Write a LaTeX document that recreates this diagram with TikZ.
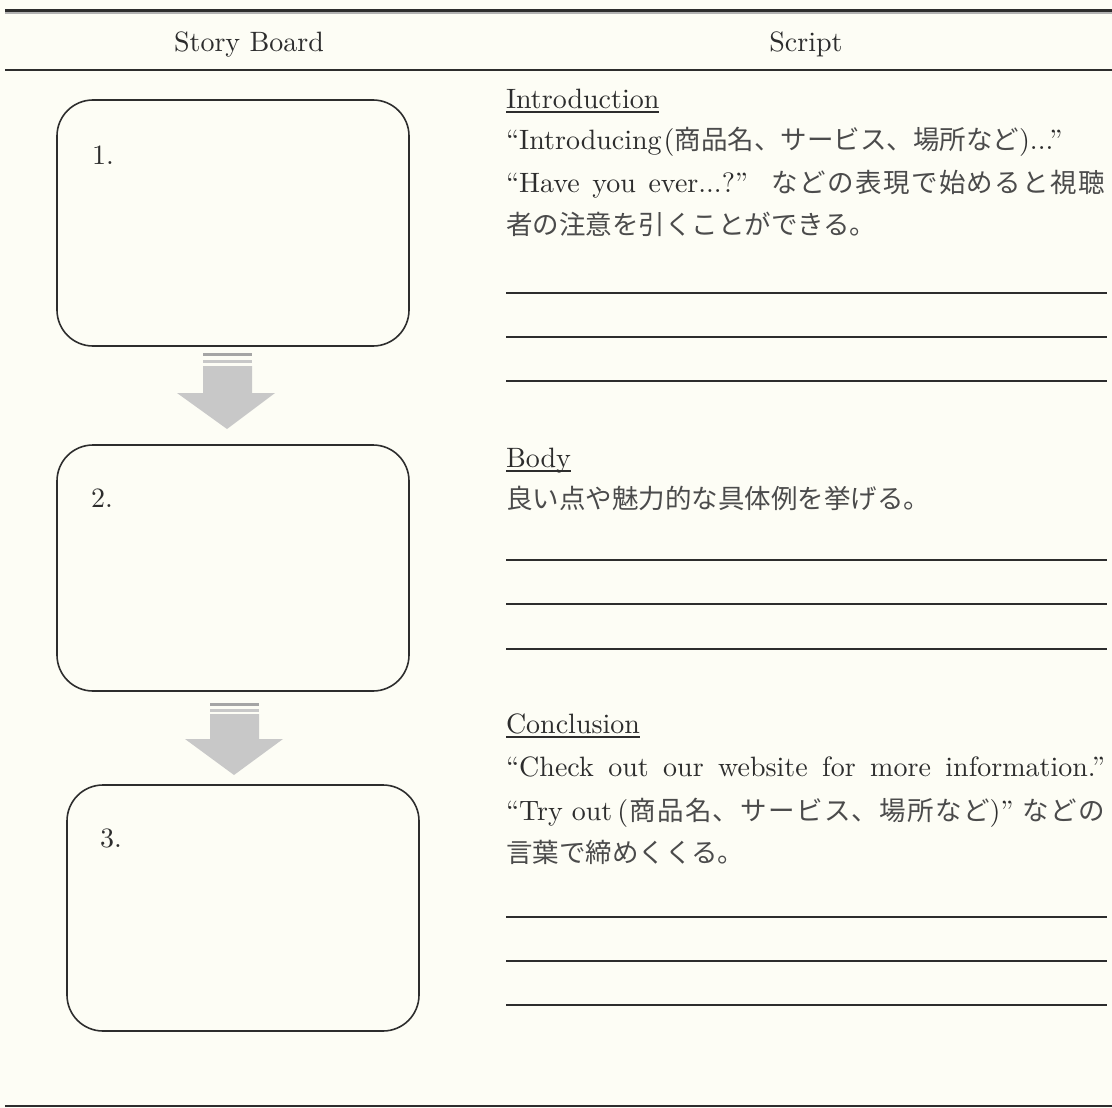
\documentclass[tikz,border=0pt]{standalone}
\usepackage{fontspec}
\setmainfont{lmroman10-regular.otf}
\newfontfamily\cjk{Noto Sans CJK JP}
\definecolor{paper}{RGB}{253,253,245}
\definecolor{ink}{RGB}{45,45,45}
\definecolor{jpink}{RGB}{75,75,75}
\definecolor{arrowgray}{RGB}{200,200,200}
\definecolor{stripedark}{RGB}{165,165,165}
\newcommand\bigtxt{\fontsize{28}{34}\selectfont}
\def\jsp#1{\ifx#1\relax\else\hskip0pt plus 2pt\relax#1\expandafter\jsp\fi}
\newcommand\jp[1]{{\color{jpink}\cjk\fontsize{26.5}{32}\selectfont #1}}
\newcommand\jps[1]{{\color{jpink}\cjk\fontsize{26.5}{32}\selectfont\jsp#1\relax}}
\begin{document}
\begin{tikzpicture}[x=1pt,y=-1pt,
  every node/.style={inner sep=0pt, outer sep=0pt, text=ink, font=\bigtxt},
  sbox/.style={draw=ink, line width=1.6pt, rounded corners=36pt, anchor=north west, minimum width=352pt, minimum height=246pt},
  txt/.style={anchor=base west},
  rule/.style={draw=ink, line width=1.3pt},
  heavy/.style={draw=ink, line width=1.8pt},
  uline/.style={draw=ink, line width=1.2pt},
  shaft/.style={fill=arrowgray, draw=none}]
\fill[paper] (0,0) rectangle (1112,1108);
\useasboundingbox (0,0) rectangle (1112,1108);

% header rules
\draw[ink, line width=2.4pt] (5,10.5) -- (1112,10.5);
\draw[gray!60, line width=1.6pt] (5,13) -- (1112,13);
\draw[heavy] (5,70) -- (1112,70);
\draw[heavy] (5,1106) -- (1112,1106);

\node[anchor=base] (hsb) at (249,52) {Story Board};
\node[anchor=base] (hsc) at (806,52) {Script};

% story boxes
\node[sbox] (b1) at (57,100) {};
\node[sbox] (b2) at (57,445) {};
\node[sbox] (b3) at (67,785) {};
\node[txt] (n1) at (92,164) {1.};
\node[txt] (n2) at (91,507) {2.};
\node[txt] (n3) at (100,847) {3.};

% block arrows
\fill[stripedark] (203,353) rectangle (252,356);
\fill[arrowgray] (203,359.5) rectangle (252,362.5);
\fill[shaft] (203,366) -- (252,366) -- (252,393) -- (275,393) -- (227,429) -- (177,393) -- (203,393) -- cycle;
\fill[stripedark] (210,703) rectangle (259,706);
\fill[arrowgray] (210,708.5) rectangle (259,711.5);
\fill[shaft] (210,714) -- (259,714) -- (259,739) -- (283,739) -- (234,775) -- (185,739) -- (210,739) -- cycle;

% Introduction
\node[txt] (hi) at (506,108) {Introduction};
\draw[uline] ([yshift=-4pt]hi.base west) -- ([yshift=-4pt]hi.base east);
\node[txt] (i1) at (506,149) {“Introducing\kern2pt(\jp{商品名、サービス、場所など})...”};
\node[txt] (i2) at (506,192) {\makebox[599pt][s]{“Have you ever...?” \jps{などの表現で始めると視聴}}};
\node[txt] (i3) at (506,234) {\jp{者の注意を引くことができる。}};
\draw[rule] (506,293) -- (1107,293);
\draw[rule] (506,337) -- (1107,337);
\draw[rule] (506,381) -- (1107,381);

% Body
\node[txt] (hb) at (506,467) {Body};
\draw[uline] ([yshift=-4pt]hb.base west) -- ([yshift=-4pt]hb.base east);
\node[txt] (b1t) at (506,508) {\jp{良い点や魅力的な具体例を挙げる。}};
\draw[rule] (506,560) -- (1107,560);
\draw[rule] (506,604) -- (1107,604);
\draw[rule] (506,649) -- (1107,649);

% Conclusion
\node[txt] (hc) at (506,733) {Conclusion};
\draw[uline] ([yshift=-4pt]hc.base west) -- ([yshift=-4pt]hc.base east);
\node[txt] (c1) at (506,776) {\makebox[599pt][s]{“Check out our website for more information.”}};
\node[txt] (c2) at (506,820) {\makebox[599pt][s]{“Try\kern9pt out\kern5pt(\jps{商品名、サービス、場所など})”\kern8pt\jps{などの}}};
\node[txt] (c3) at (506,862) {\jp{言葉で締めくくる。}};
\draw[rule] (506,917) -- (1107,917);
\draw[rule] (506,961) -- (1107,961);
\draw[rule] (506,1005) -- (1107,1005);
\end{tikzpicture}
\end{document}
